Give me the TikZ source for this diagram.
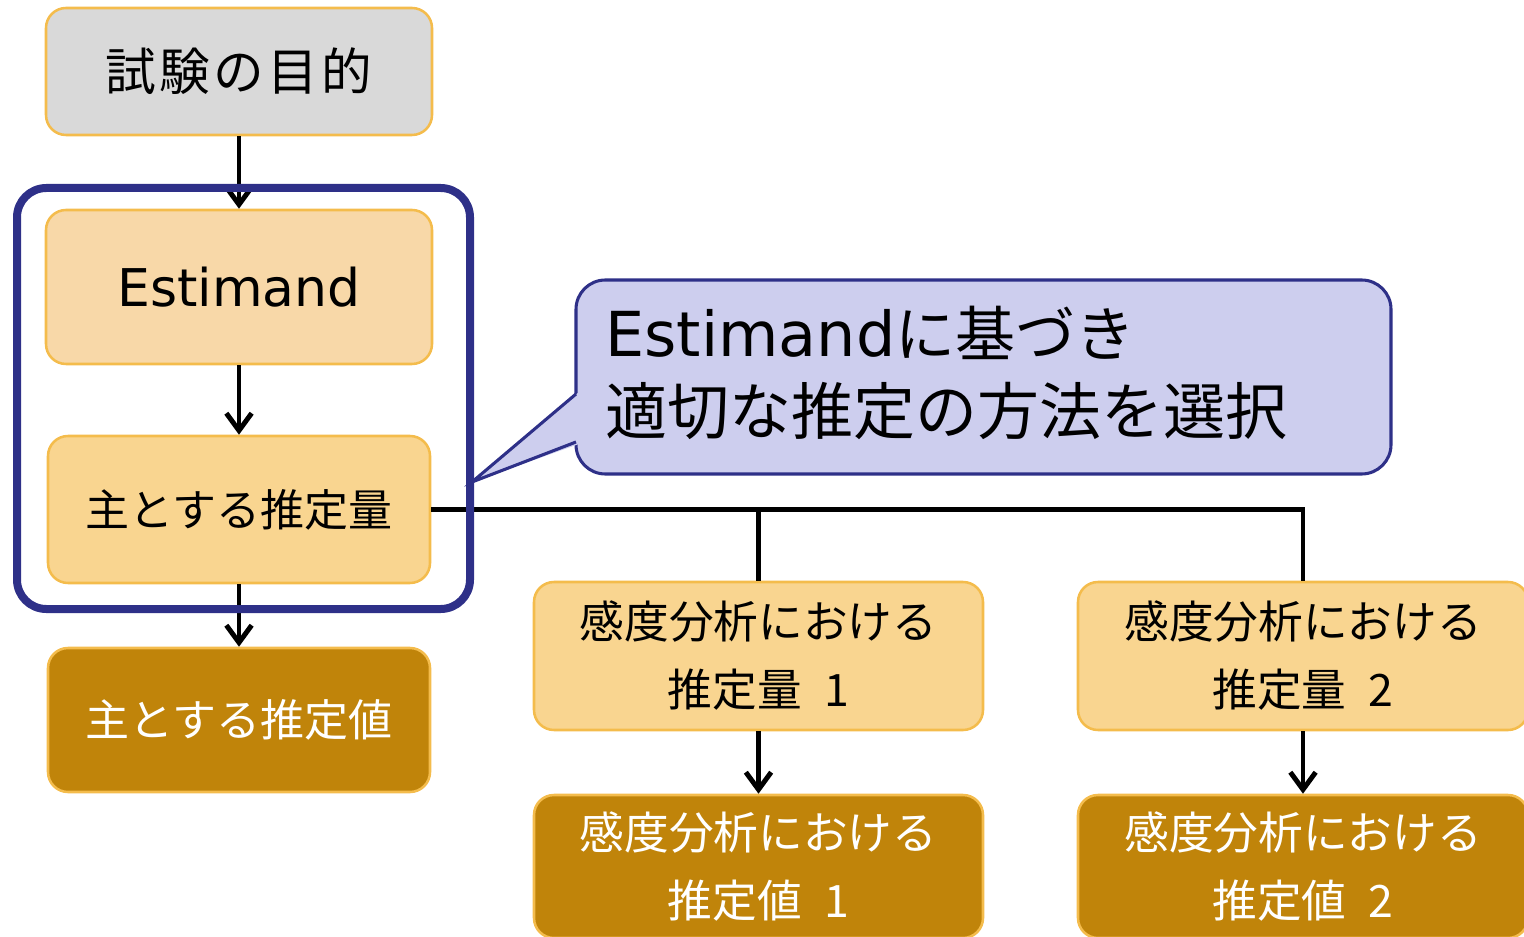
\documentclass[tikz,border=0pt]{standalone}
\usepackage{fontspec}
\setmainfont{DejaVu Sans}
\newfontfamily\cjk{Noto Sans CJK JP}
\usetikzlibrary{arrows.meta}
\newdimen\upx \upx=0.75pt
\definecolor{oborder}{RGB}{244,188,76}
\definecolor{gfill}{RGB}{217,217,217}
\definecolor{peach}{RGB}{248,216,168}
\definecolor{lgold}{RGB}{249,213,144}
\definecolor{dgold}{RGB}{192,132,10}
\definecolor{fblue}{RGB}{46,48,136}
\definecolor{cfill}{RGB}{205,206,238}
\tikzset{
  box/.style={draw=oborder, line width=1.9pt, rounded corners=15pt, inner sep=0pt, align=center},
  conn/.style={draw=black, line width=3.7pt},
  arr/.style={conn, -{Straight Barb[length=13pt,width=19pt]}},
  fsA/.style={font=\cjk\fontsize{38}{46}\selectfont},
  fsB/.style={font=\cjk\fontsize{33.5}{51}\selectfont},
}
\begin{document}
\begin{tikzpicture}[x=0.75pt,y=-0.75pt]
\useasboundingbox (0,0) rectangle (1524,937);
\clip (0,0) rectangle (1524,937);
% boxes
\node[box, fill=gfill, minimum width=386\upx, minimum height=127\upx, fsA] (purpose) at (239,71.5) {試\hspace{2.5pt}験\hspace{2.5pt}の\hspace{2.5pt}目\hspace{2.5pt}的};
\node[box, fill=peach, minimum width=386\upx, minimum height=154\upx, font=\fontsize{39}{47}\selectfont] (est) at (239,287) {Estimand};
\node[box, fill=lgold, minimum width=382\upx, minimum height=147\upx, font=\cjk\fontsize{33}{40}\selectfont] (mainq) at (239,509.5) {主とする推定量};
\node[box, fill=dgold, text=white, minimum width=382\upx, minimum height=144\upx, font=\cjk\fontsize{33}{40}\selectfont] (mainv) at (239,720) {主とする推定値};
\node[box, fill=lgold, minimum width=449\upx, minimum height=148\upx, fsB] (s1q) at (758.5,656) {感度分析における\\推定量\hspace{0.5em}1};
\node[box, fill=lgold, minimum width=450\upx, minimum height=148\upx, fsB] (s2q) at (1303,656) {感度分析における\\推定量\hspace{0.5em}2};
\node[box, fill=dgold, text=white, minimum width=449\upx, minimum height=143\upx, fsB] (s1v) at (758.5,866.5) {感度分析における\\推定値\hspace{0.5em}1};
\node[box, fill=dgold, text=white, minimum width=450\upx, minimum height=143\upx, fsB] (s2v) at (1303,866.5) {感度分析における\\推定値\hspace{0.5em}2};
% connectors
\coordinate (j1) at (758.5,509.5);
\coordinate (j2) at (1303,509.5);
\draw[arr] (purpose) -- (est);
\draw[arr] (est) -- (mainq);
\draw[arr] (mainq) -- (mainv);
\draw[conn, line join=miter] (mainq.east) -- (j2) -- (s2q.north);
\draw[conn] (j1) -- (s1q.north);
\draw[arr] (s1q) -- (s1v);
\draw[arr] (s2q) -- (s2v);
% frame
\node[draw=fblue, line width=6pt, rounded corners=22pt, minimum width=453\upx, minimum height=421\upx, inner sep=0pt] (frame) at (243.5,398.5) {};
% callout
\node[draw=fblue, fill=cfill, line width=2.3pt, rounded corners=22pt, minimum width=815\upx, minimum height=194\upx, inner sep=0pt] (call) at (983.5,377) {};
\coordinate (tip) at (472,482);
\coordinate (cb1) at (576,394);
\coordinate (cb2) at (576,442);
\fill[cfill] (579,392) -- (tip) -- (579,444) -- cycle;
\draw[fblue, line width=2.3pt, line join=miter] (cb1) -- (tip) -- (cb2);
\node[anchor=west, align=left, inner sep=0pt, font=\fontsize{46.5}{58.5}\selectfont] (calltxt) at (605,373) {Estimand{\cjk\fontsize{45}{58.5}\selectfont に基づき}\\{\cjk\fontsize{46.5}{58.5}\selectfont 適切な推定の方法を選択}};
\end{tikzpicture}
\end{document}
